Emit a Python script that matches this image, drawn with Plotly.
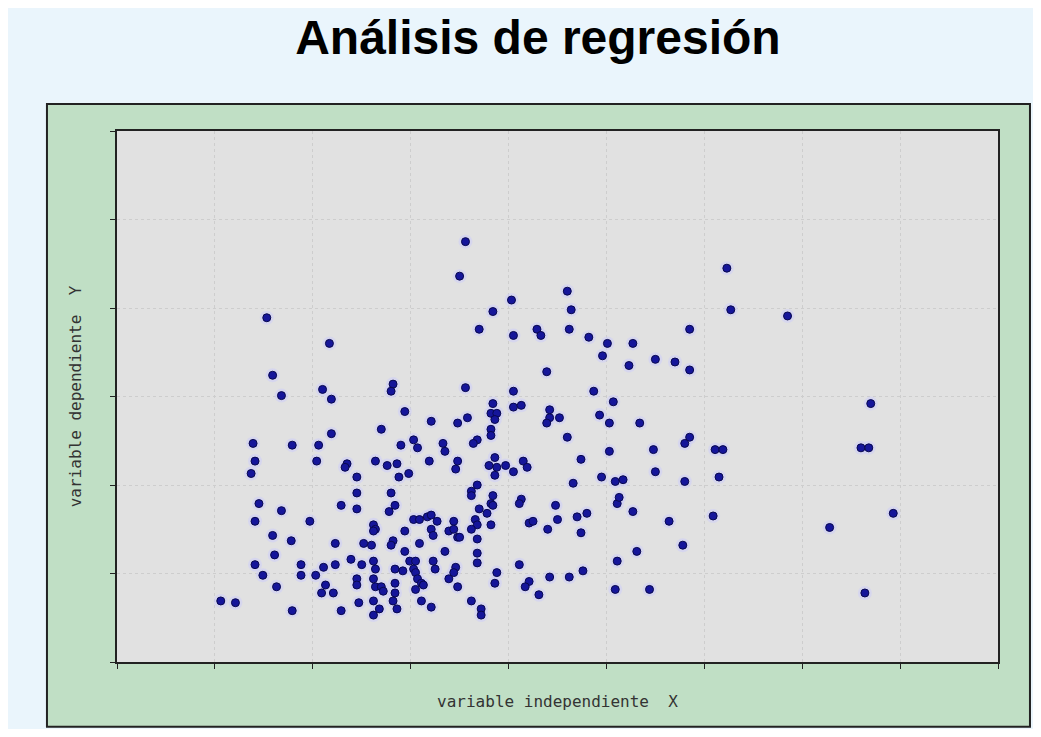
import plotly.graph_objects as go

# ── data (x: 0..9, y: 0..6, axes have no labels) ─────────────────────────────
x_vals = [
    1.53, 2.17, 1.59, 1.68, 2.10, 2.19, 2.82, 2.80, 2.94, 2.19, 2.70, 1.39, 1.79,
    2.06, 2.90, 1.41, 2.04, 2.35, 2.33, 2.64, 2.76, 2.86, 2.45, 2.88, 1.37, 2.98,
    3.56, 3.50, 4.60, 4.03, 3.84, 4.64, 3.70, 4.05, 4.29, 4.33, 4.62, 4.82, 5.01,
    4.96, 5.27, 5.85, 5.50, 5.70, 5.85, 5.23, 4.39, 3.56, 4.05, 4.87, 5.07, 3.84,
    4.05, 4.13, 4.42, 4.42, 4.39, 4.52, 4.93, 5.03, 5.34, 3.21, 3.48, 3.58, 3.82,
    3.88, 3.86, 3.82, 3.82, 4.60, 5.85, 5.80, 3.03, 3.07, 3.33, 3.35, 3.68, 3.64,
    5.03, 5.48, 3.19, 3.48, 3.46, 3.86, 3.80, 3.88, 3.97, 3.86, 4.05, 4.15, 4.19,
    4.74, 5.50, 4.95, 5.09, 5.17, 4.66, 3.68, 5.80,
    6.23, 6.27, 6.85, 7.70, 6.11, 6.19, 7.60, 7.68, 6.15,
    5.11, 5.13, 5.27, 5.64, 6.09, 7.28, 7.93, 5.31, 5.11, 5.78, 5.09, 5.44, 7.64,
    1.45, 1.68, 1.41, 1.97, 1.59, 1.78, 1.61, 1.41, 1.49, 1.88, 1.88, 1.63, 1.06,
    1.21, 1.79,
    2.45, 2.80, 2.29, 2.45, 2.84, 2.78, 2.62, 2.64, 2.62, 3.03, 3.09, 3.17, 3.21,
    3.27, 3.21, 3.23, 3.44, 3.39, 3.44, 3.48, 2.94, 2.23, 2.52, 2.60, 2.82, 2.80,
    3.09, 2.94, 3.35, 2.39, 2.62, 2.64, 2.99, 3.05, 3.23, 3.25, 3.46, 3.44, 3.39,
    2.11, 2.23, 2.50, 2.03, 2.84, 2.92, 3.03, 3.05, 2.45, 2.45, 2.62, 2.64, 2.70,
    2.72, 2.84, 3.07, 3.11, 3.13, 3.05, 2.13, 2.09, 2.21, 2.84, 3.48, 2.47, 2.62,
    2.82, 2.68, 2.62, 2.86, 3.11, 3.21, 2.29,
    3.62, 3.62, 3.84, 3.82, 3.84, 3.70, 3.78, 4.13, 4.11, 4.48, 4.50, 4.21, 4.25,
    4.40, 4.70, 4.80, 4.74, 3.66, 3.68, 3.62, 3.82, 3.50, 3.68, 3.68, 3.68, 3.88,
    3.86, 4.11, 4.21, 4.17, 4.42, 4.62, 4.76, 4.31, 3.62, 3.72, 3.72,
]
y_vals = [
    3.89, 3.60, 3.24, 3.01, 3.08, 2.97, 3.14, 3.06, 2.83, 2.58, 2.63, 2.47, 2.45,
    2.45, 2.45, 2.27, 2.27, 2.24, 2.20, 2.27, 2.22, 2.24, 2.09, 2.09, 2.13, 2.13,
    4.75, 4.36, 4.19, 4.09, 3.96, 3.98, 3.76, 3.69, 3.76, 3.69, 3.76, 3.67, 3.60,
    3.46, 3.60, 3.76, 3.42, 3.39, 3.30, 3.35, 3.28, 3.10, 3.06, 3.06, 2.94, 2.92,
    2.88, 2.90, 2.85, 2.76, 2.70, 2.76, 2.79, 2.70, 2.70, 2.72, 2.70, 2.76, 2.81,
    2.81, 2.74, 2.63, 2.56, 2.54, 2.54, 2.47, 2.51, 2.42, 2.47, 2.38, 2.51, 2.47,
    2.38, 2.40, 2.27, 2.27, 2.18, 2.31, 2.22, 2.20, 2.22, 2.11, 2.15, 2.27, 2.20,
    2.29, 2.15, 2.09, 2.04, 2.06, 2.02, 2.00, 2.04,
    4.45, 3.98, 3.91, 2.92, 2.40, 2.40, 2.42, 2.42, 2.09,
    1.79, 1.86, 1.70, 1.59, 1.65, 1.52, 1.68, 1.25, 1.14, 1.32, 0.82, 0.82, 0.78,
    1.79, 1.71, 1.59, 1.59, 1.43, 1.37, 1.21, 1.10, 0.98, 1.10, 0.98, 0.85, 0.69,
    0.67, 0.58,
    1.91, 1.91, 1.77, 1.73, 1.77, 1.70, 1.55, 1.50, 1.48, 1.61, 1.61, 1.64, 1.66,
    1.59, 1.50, 1.43, 1.59, 1.48, 1.50, 1.41, 1.48, 1.34, 1.34, 1.32, 1.37, 1.32,
    1.34, 1.25, 1.25, 1.16, 1.14, 1.05, 1.14, 1.14, 1.14, 1.05, 1.07, 1.01, 0.94,
    1.07, 1.10, 1.10, 0.98, 1.05, 1.03, 1.05, 1.01, 0.94, 0.87, 0.94, 0.85, 0.85,
    0.80, 0.89, 0.94, 0.89, 0.87, 0.82, 0.87, 0.78, 0.78, 0.78, 0.85, 0.67, 0.69,
    0.69, 0.60, 0.53, 0.60, 0.69, 0.62, 0.58,
    1.93, 1.88, 1.88, 1.79, 1.77, 1.73, 1.68, 1.84, 1.79, 1.77, 1.61, 1.57, 1.59,
    1.50, 1.64, 1.68, 1.46, 1.61, 1.55, 1.50, 1.55, 1.41, 1.39, 1.23, 1.12, 1.01,
    0.89, 1.10, 0.91, 0.85, 0.96, 0.96, 1.03, 0.76, 0.69, 0.60, 0.53,
]

title_text = "Análisis de regresión"
x_title = "variable independiente\u00a0\u00a0X"
y_title = "variable dependiente\u00a0\u00a0Y"

fig = go.Figure()
# soft halo behind each point
fig.add_trace(go.Scatter(
    x=x_vals, y=y_vals, mode="markers", hoverinfo="skip",
    marker=dict(size=14, color="rgba(205,205,250,0.55)", line=dict(width=0)),
))
fig.add_trace(go.Scatter(
    x=x_vals, y=y_vals, mode="markers",
    marker=dict(size=8, color="#15159a", line=dict(width=1, color="#08084f")),
))

axis_common = dict(
    showticklabels=False, ticks="outside", ticklen=5, tickwidth=1, tickcolor="#222",
    showline=True, linecolor="#222", linewidth=2, mirror=True,
    showgrid=True, gridcolor="#cdcdcd", griddash="dot", gridwidth=1,
    zeroline=False, dtick=1, fixedrange=True,
)
label_font = dict(family="DejaVu Sans Mono", size=16, color="#333")

fig.update_layout(
    width=1025, height=721,
    margin=dict(l=109, r=35, t=123, b=67),
    paper_bgcolor="#eaf5fc", plot_bgcolor="rgba(0,0,0,0)",
    showlegend=False,
    title=dict(text="<b>" + title_text + "</b>", x=0.517, xanchor="center",
               y=0.96, yanchor="middle",
               font=dict(family="Liberation Sans", size=48, color="#000")),
    xaxis=dict(range=[0, 9], title=dict(text=x_title, standoff=28, font=label_font),
               **axis_common),
    yaxis=dict(range=[0, 6], title=dict(text=y_title, standoff=24, font=label_font),
               **axis_common),
    shapes=[
        # green frame around the chart
        dict(type="rect", xref="paper", yref="paper",
             x0=-0.0795, x1=1.0363, y0=-0.122, y1=1.0508,
             fillcolor="#c0dfc5", line=dict(color="#222", width=2), layer="below"),
        # grey plotting area
        dict(type="rect", xref="paper", yref="paper", x0=0, x1=1, y0=0, y1=1,
             fillcolor="#e1e1e1", line=dict(width=0), layer="below"),
    ],
)

fig.write_html("out.html")
